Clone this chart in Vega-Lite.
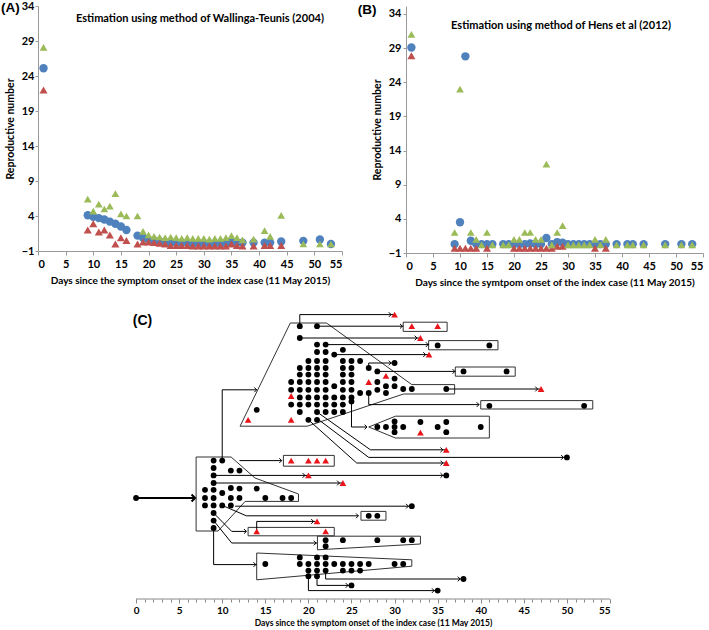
{
"$schema": "https://vega.github.io/schema/vega-lite/v6.json",
"background": "white",
"padding": 0,
"spacing": 23,
"config": {"view": {"stroke": null}, "axis": {"labelFont": "Lato", "titleFont": "Lato", "grid": false, "labelOverlap": false}, "text": {"font": "Lato"}},
"datasets": {
"wt": [
{"day":1,"series":"Estimate","value":25.1},{"day":9,"series":"Estimate","value":4.1},{"day":10,"series":"Estimate","value":3.9},{"day":11,"series":"Estimate","value":3.7},{"day":12,"series":"Estimate","value":3.5},{"day":13,"series":"Estimate","value":3.2},{"day":14,"series":"Estimate","value":2.9},{"day":15,"series":"Estimate","value":2.5},{"day":16,"series":"Estimate","value":2.0},{"day":18,"series":"Estimate","value":1.2},{"day":19,"series":"Estimate","value":0.9},{"day":20,"series":"Estimate","value":0.6},{"day":21,"series":"Estimate","value":0.5},{"day":22,"series":"Estimate","value":0.4},{"day":23,"series":"Estimate","value":0.3},{"day":24,"series":"Estimate","value":0.2},{"day":25,"series":"Estimate","value":0.2},{"day":26,"series":"Estimate","value":0.2},{"day":27,"series":"Estimate","value":0.2},{"day":28,"series":"Estimate","value":0.1},{"day":29,"series":"Estimate","value":0.1},{"day":30,"series":"Estimate","value":0.1},{"day":31,"series":"Estimate","value":0.1},{"day":32,"series":"Estimate","value":0.1},{"day":33,"series":"Estimate","value":0.1},{"day":34,"series":"Estimate","value":0.1},{"day":35,"series":"Estimate","value":0.3},{"day":36,"series":"Estimate","value":0.2},{"day":37,"series":"Estimate","value":0.2},{"day":39,"series":"Estimate","value":0.2},{"day":41,"series":"Estimate","value":0.2},{"day":42,"series":"Estimate","value":0.2},{"day":44,"series":"Estimate","value":0.35},{"day":48,"series":"Estimate","value":0.45},{"day":51,"series":"Estimate","value":0.65},{"day":53,"series":"Estimate","value":0.0},
{"day":1,"series":"Lower 95% CI","value":22.0},{"day":9,"series":"Lower 95% CI","value":2.0},{"day":10,"series":"Lower 95% CI","value":2.9},{"day":11,"series":"Lower 95% CI","value":1.7},{"day":12,"series":"Lower 95% CI","value":2.0},{"day":13,"series":"Lower 95% CI","value":1.3},{"day":14,"series":"Lower 95% CI","value":0.0},{"day":15,"series":"Lower 95% CI","value":0.9},{"day":16,"series":"Lower 95% CI","value":0.5},{"day":18,"series":"Lower 95% CI","value":0.0},{"day":19,"series":"Lower 95% CI","value":0.3},{"day":20,"series":"Lower 95% CI","value":0.3},{"day":21,"series":"Lower 95% CI","value":0.2},{"day":22,"series":"Lower 95% CI","value":0.1},{"day":23,"series":"Lower 95% CI","value":0.0},{"day":24,"series":"Lower 95% CI","value":-0.2},{"day":25,"series":"Lower 95% CI","value":-0.2},{"day":26,"series":"Lower 95% CI","value":-0.2},{"day":27,"series":"Lower 95% CI","value":-0.2},{"day":28,"series":"Lower 95% CI","value":-0.3},{"day":29,"series":"Lower 95% CI","value":-0.3},{"day":30,"series":"Lower 95% CI","value":-0.3},{"day":31,"series":"Lower 95% CI","value":-0.3},{"day":32,"series":"Lower 95% CI","value":-0.3},{"day":33,"series":"Lower 95% CI","value":-0.3},{"day":34,"series":"Lower 95% CI","value":-0.3},{"day":35,"series":"Lower 95% CI","value":0.0},{"day":36,"series":"Lower 95% CI","value":-0.2},{"day":37,"series":"Lower 95% CI","value":-0.3},{"day":39,"series":"Lower 95% CI","value":-0.3},{"day":41,"series":"Lower 95% CI","value":-0.2},{"day":42,"series":"Lower 95% CI","value":-0.2},{"day":44,"series":"Lower 95% CI","value":-0.2},
{"day":1,"series":"Upper 95% CI","value":28.1},{"day":9,"series":"Upper 95% CI","value":6.4},{"day":10,"series":"Upper 95% CI","value":4.7},{"day":11,"series":"Upper 95% CI","value":5.7},{"day":12,"series":"Upper 95% CI","value":5.0},{"day":13,"series":"Upper 95% CI","value":5.4},{"day":14,"series":"Upper 95% CI","value":7.2},{"day":15,"series":"Upper 95% CI","value":4.3},{"day":16,"series":"Upper 95% CI","value":4.0},{"day":18,"series":"Upper 95% CI","value":4.0},{"day":19,"series":"Upper 95% CI","value":1.8},{"day":20,"series":"Upper 95% CI","value":1.3},{"day":21,"series":"Upper 95% CI","value":1.1},{"day":22,"series":"Upper 95% CI","value":1.0},{"day":23,"series":"Upper 95% CI","value":0.9},{"day":24,"series":"Upper 95% CI","value":1.0},{"day":25,"series":"Upper 95% CI","value":0.9},{"day":26,"series":"Upper 95% CI","value":0.8},{"day":27,"series":"Upper 95% CI","value":0.9},{"day":28,"series":"Upper 95% CI","value":0.8},{"day":29,"series":"Upper 95% CI","value":0.8},{"day":30,"series":"Upper 95% CI","value":0.8},{"day":31,"series":"Upper 95% CI","value":0.7},{"day":32,"series":"Upper 95% CI","value":0.8},{"day":33,"series":"Upper 95% CI","value":0.8},{"day":34,"series":"Upper 95% CI","value":0.9},{"day":35,"series":"Upper 95% CI","value":1.2},{"day":36,"series":"Upper 95% CI","value":0.9},{"day":37,"series":"Upper 95% CI","value":0.6},{"day":39,"series":"Upper 95% CI","value":0.7},{"day":41,"series":"Upper 95% CI","value":1.9},{"day":42,"series":"Upper 95% CI","value":1.1},{"day":44,"series":"Upper 95% CI","value":4.1},{"day":48,"series":"Upper 95% CI","value":0.0},{"day":51,"series":"Upper 95% CI","value":0.0},{"day":53,"series":"Upper 95% CI","value":0.0}
],
"hens": [
{"day":1,"series":"Estimate","value":29.1},{"day":9,"series":"Estimate","value":0.3},{"day":10,"series":"Estimate","value":3.5},{"day":11,"series":"Estimate","value":27.8},{"day":12,"series":"Estimate","value":0.8},{"day":13,"series":"Estimate","value":0.3},{"day":14,"series":"Estimate","value":0.3},{"day":15,"series":"Estimate","value":0.3},{"day":16,"series":"Estimate","value":0.3},{"day":18,"series":"Estimate","value":0.3},{"day":19,"series":"Estimate","value":0.3},{"day":20,"series":"Estimate","value":0.3},{"day":21,"series":"Estimate","value":0.3},{"day":22,"series":"Estimate","value":0.3},{"day":23,"series":"Estimate","value":0.4},{"day":24,"series":"Estimate","value":0.3},{"day":25,"series":"Estimate","value":0.3},{"day":26,"series":"Estimate","value":1.2},{"day":27,"series":"Estimate","value":0.3},{"day":28,"series":"Estimate","value":0.6},{"day":29,"series":"Estimate","value":0.5},{"day":30,"series":"Estimate","value":0.3},{"day":31,"series":"Estimate","value":0.3},{"day":32,"series":"Estimate","value":0.3},{"day":33,"series":"Estimate","value":0.3},{"day":34,"series":"Estimate","value":0.3},{"day":35,"series":"Estimate","value":0.3},{"day":36,"series":"Estimate","value":0.3},{"day":37,"series":"Estimate","value":0.3},{"day":39,"series":"Estimate","value":0.3},{"day":41,"series":"Estimate","value":0.3},{"day":42,"series":"Estimate","value":0.3},{"day":44,"series":"Estimate","value":0.3},{"day":48,"series":"Estimate","value":0.3},{"day":51,"series":"Estimate","value":0.3},{"day":53,"series":"Estimate","value":0.3},
{"day":1,"series":"Lower 95% CI","value":27.9},{"day":9,"series":"Lower 95% CI","value":-0.3},{"day":10,"series":"Lower 95% CI","value":-0.3},{"day":11,"series":"Lower 95% CI","value":-0.3},{"day":12,"series":"Lower 95% CI","value":-0.3},{"day":13,"series":"Lower 95% CI","value":-0.3},{"day":15,"series":"Lower 95% CI","value":-0.3},{"day":20,"series":"Lower 95% CI","value":-0.3},{"day":21,"series":"Lower 95% CI","value":-0.3},{"day":22,"series":"Lower 95% CI","value":-0.3},{"day":23,"series":"Lower 95% CI","value":-0.3},{"day":24,"series":"Lower 95% CI","value":-0.3},{"day":25,"series":"Lower 95% CI","value":-0.3},{"day":26,"series":"Lower 95% CI","value":-0.3},{"day":27,"series":"Lower 95% CI","value":-0.3},{"day":28,"series":"Lower 95% CI","value":0.0},{"day":29,"series":"Lower 95% CI","value":0.0},{"day":35,"series":"Lower 95% CI","value":-0.3},{"day":37,"series":"Lower 95% CI","value":-0.3},
{"day":1,"series":"Upper 95% CI","value":31.0},{"day":9,"series":"Upper 95% CI","value":2.0},{"day":10,"series":"Upper 95% CI","value":23.0},{"day":12,"series":"Upper 95% CI","value":2.0},{"day":13,"series":"Upper 95% CI","value":1.0},{"day":14,"series":"Upper 95% CI","value":0.2},{"day":15,"series":"Upper 95% CI","value":2.0},{"day":16,"series":"Upper 95% CI","value":0.2},{"day":18,"series":"Upper 95% CI","value":0.2},{"day":19,"series":"Upper 95% CI","value":0.2},{"day":20,"series":"Upper 95% CI","value":1.0},{"day":21,"series":"Upper 95% CI","value":1.0},{"day":22,"series":"Upper 95% CI","value":2.0},{"day":23,"series":"Upper 95% CI","value":2.0},{"day":24,"series":"Upper 95% CI","value":1.0},{"day":25,"series":"Upper 95% CI","value":1.0},{"day":26,"series":"Upper 95% CI","value":12.0},{"day":27,"series":"Upper 95% CI","value":0.2},{"day":28,"series":"Upper 95% CI","value":2.0},{"day":29,"series":"Upper 95% CI","value":3.0},{"day":30,"series":"Upper 95% CI","value":0.2},{"day":31,"series":"Upper 95% CI","value":0.2},{"day":32,"series":"Upper 95% CI","value":0.2},{"day":33,"series":"Upper 95% CI","value":0.2},{"day":34,"series":"Upper 95% CI","value":0.2},{"day":35,"series":"Upper 95% CI","value":1.0},{"day":36,"series":"Upper 95% CI","value":0.2},{"day":37,"series":"Upper 95% CI","value":1.0},{"day":39,"series":"Upper 95% CI","value":0.2},{"day":41,"series":"Upper 95% CI","value":0.2},{"day":42,"series":"Upper 95% CI","value":0.2},{"day":44,"series":"Upper 95% CI","value":0.2},{"day":48,"series":"Upper 95% CI","value":0.2},{"day":51,"series":"Upper 95% CI","value":0.2},{"day":53,"series":"Upper 95% CI","value":0.2}
],
"c_polys": [
{"id":"p1","i":0,"d":6.97,"y":35.5},{"id":"p1","i":1,"d":11.03,"y":35.5},{"id":"p1","i":2,"d":13.8,"y":30.25},{"id":"p1","i":3,"d":18.85,"y":26.25},{"id":"p1","i":4,"d":18.85,"y":24.4},{"id":"p1","i":5,"d":12.66,"y":24.4},{"id":"p1","i":6,"d":9.52,"y":17},{"id":"p1","i":7,"d":6.97,"y":17},{"id":"p1","i":8,"d":6.97,"y":35.5},
{"id":"p2","i":0,"d":17.9,"y":69},{"id":"p2","i":1,"d":22.1,"y":69},{"id":"p2","i":2,"d":32.0,"y":53.6},{"id":"p2","i":3,"d":36.97,"y":53.6},{"id":"p2","i":4,"d":36.97,"y":51.25},{"id":"p2","i":5,"d":31.04,"y":51.25},{"id":"p2","i":6,"d":19.86,"y":43.2},{"id":"p2","i":7,"d":12.07,"y":43.2},{"id":"p2","i":8,"d":17.9,"y":69},
{"id":"p3","i":0,"d":17.1,"y":33.2},{"id":"p3","i":1,"d":23,"y":33.2},{"id":"p3","i":2,"d":23,"y":35.9},{"id":"p3","i":3,"d":17.1,"y":35.9},{"id":"p3","i":4,"d":17.1,"y":33.2},
{"id":"p4","i":0,"d":31,"y":66.9},{"id":"p4","i":1,"d":36.1,"y":66.9},{"id":"p4","i":2,"d":36.1,"y":69.2},{"id":"p4","i":3,"d":31,"y":69.2},{"id":"p4","i":4,"d":31,"y":66.9},
{"id":"p5","i":0,"d":33.95,"y":62.3},{"id":"p5","i":1,"d":42,"y":62.3},{"id":"p5","i":2,"d":42,"y":64.6},{"id":"p5","i":3,"d":33.95,"y":64.6},{"id":"p5","i":4,"d":33.95,"y":62.3},
{"id":"p6","i":0,"d":37.05,"y":55.7},{"id":"p6","i":1,"d":44,"y":55.7},{"id":"p6","i":2,"d":44,"y":58},{"id":"p6","i":3,"d":37.05,"y":58},{"id":"p6","i":4,"d":37.05,"y":55.7},
{"id":"p7","i":0,"d":40,"y":47.5},{"id":"p7","i":1,"d":53,"y":47.5},{"id":"p7","i":2,"d":53,"y":49.6},{"id":"p7","i":3,"d":40,"y":49.6},{"id":"p7","i":4,"d":40,"y":47.5},
{"id":"p8","i":0,"d":27,"y":43},{"id":"p8","i":1,"d":30.1,"y":45.7},{"id":"p8","i":2,"d":41,"y":45.7},{"id":"p8","i":3,"d":41,"y":40.25},{"id":"p8","i":4,"d":30.1,"y":40.25},{"id":"p8","i":5,"d":27,"y":43},
{"id":"p9","i":0,"d":26.1,"y":19.7},{"id":"p9","i":1,"d":29,"y":19.7},{"id":"p9","i":2,"d":29,"y":21.9},{"id":"p9","i":3,"d":26.1,"y":21.9},{"id":"p9","i":4,"d":26.1,"y":19.7},
{"id":"p10","i":0,"d":13,"y":15.8},{"id":"p10","i":1,"d":23,"y":15.8},{"id":"p10","i":2,"d":23,"y":17.9},{"id":"p10","i":3,"d":13,"y":17.9},{"id":"p10","i":4,"d":13,"y":15.8},
{"id":"p11","i":0,"d":21.05,"y":15.7},{"id":"p11","i":1,"d":33,"y":15.7},{"id":"p11","i":2,"d":33,"y":13.75},{"id":"p11","i":3,"d":21.05,"y":12.3},{"id":"p11","i":4,"d":21.05,"y":15.7},
{"id":"p12","i":0,"d":14,"y":11.5},{"id":"p12","i":1,"d":32,"y":9.8},{"id":"p12","i":2,"d":32,"y":8.2},{"id":"p12","i":3,"d":14,"y":4.8},{"id":"p12","i":4,"d":14,"y":11.5}
],
"c_segs": [
{"x1":10,"y1":34.6,"x2":10,"y2":52.3},{"x1":10,"y1":52.3,"x2":14,"y2":52.3},{"x1":12,"y1":34.6,"x2":16.9,"y2":34.6},{"x1":9,"y1":30.9,"x2":36,"y2":30.9},{"x1":9,"y1":29,"x2":24,"y2":29},{"x1":11.5,"y1":23.2,"x2":32,"y2":23.2},{"x1":10,"y1":23.4,"x2":12.8,"y2":20.8},{"x1":12.8,"y1":20.8,"x2":25.8,"y2":20.8},{"x1":9,"y1":21.5,"x2":11.1,"y2":16.9},{"x1":11.1,"y1":16.9,"x2":12.8,"y2":16.9},{"x1":14,"y1":16.9,"x2":14,"y2":19.4},{"x1":14,"y1":19.4,"x2":20.8,"y2":19.4},{"x1":9,"y1":19.6,"x2":11.1,"y2":14},{"x1":11.1,"y1":14,"x2":21,"y2":14},{"x1":9,"y1":17.75,"x2":9,"y2":8.6},{"x1":9,"y1":8.6,"x2":14,"y2":8.6},{"x1":22,"y1":7.1,"x2":22,"y2":5},{"x1":22,"y1":5,"x2":38,"y2":5},{"x1":21,"y1":5.7,"x2":21,"y2":3.4},{"x1":21,"y1":3.4,"x2":25,"y2":3.4},{"x1":20,"y1":5.7,"x2":20,"y2":2.1},{"x1":20,"y1":2.1,"x2":35,"y2":2.1},
{"x1":19,"y1":68.2,"x2":19,"y2":71.1},{"x1":19,"y1":71.1,"x2":30,"y2":71.1},{"x1":21,"y1":68.2,"x2":31,"y2":68.2},{"x1":19,"y1":65.25,"x2":33,"y2":65.25},{"x1":22,"y1":63.6,"x2":34,"y2":63.6},{"x1":23,"y1":61.1,"x2":34,"y2":61.1},{"x1":27,"y1":57.75,"x2":27,"y2":59},{"x1":27,"y1":59,"x2":30,"y2":59},{"x1":28,"y1":56.9,"x2":37,"y2":56.9},{"x1":36,"y1":52.5,"x2":47,"y2":52.5},{"x1":27,"y1":51.5,"x2":27,"y2":48.6},{"x1":27,"y1":48.6,"x2":39.8,"y2":48.6},{"x1":25,"y1":49.4,"x2":25,"y2":43},{"x1":25,"y1":43,"x2":26.8,"y2":43},{"x1":21,"y1":46.75,"x2":27.2,"y2":37.3},{"x1":27.2,"y1":37.3,"x2":36,"y2":37.3},{"x1":21.2,"y1":44.8,"x2":27,"y2":35.4},{"x1":27,"y1":35.4,"x2":50,"y2":35.4},{"x1":20,"y1":44.8,"x2":25.6,"y2":34},{"x1":25.6,"y1":34,"x2":36,"y2":34}
],
"c_tips": [
{"d":14,"y":52.3},{"d":16.9,"y":34.6},{"d":19.6,"y":30.9},{"d":35.6,"y":30.9},{"d":23.6,"y":29},{"d":31.6,"y":23.2},{"d":25.8,"y":20.8},{"d":12.8,"y":16.9},{"d":20.6,"y":19.4},{"d":20.9,"y":14},{"d":13.9,"y":8.6},{"d":37.6,"y":5},{"d":24.6,"y":3.4},{"d":34.6,"y":2.1},{"d":29.6,"y":71.1},{"d":30.9,"y":68.2},{"d":32.6,"y":65.25},{"d":33.9,"y":63.6},{"d":33.6,"y":61.1},{"d":29.6,"y":59},{"d":37,"y":56.9},{"d":46.6,"y":52.5},{"d":39.8,"y":48.6},{"d":26.8,"y":43},{"d":35.6,"y":37.3},{"d":49.6,"y":35.4},{"d":35.6,"y":34}
],
"c_index": [{"x1":0,"y1":25.25,"x2":6.85,"y2":25.25}],
"c_index_tip": [{"d":6.85,"y":25.25}],
"c_dots": [
{"d":0,"y":25.25},
{"d":9,"y":34.6},{"d":9,"y":32.75},{"d":9,"y":30.9},{"d":9,"y":29},{"d":9,"y":27.3},{"d":9,"y":25.25},{"d":9,"y":23.4},{"d":9,"y":21.5},{"d":9,"y":19.6},{"d":9,"y":17.75},
{"d":10,"y":34.6},{"d":10,"y":26.5},{"d":10,"y":23.4},{"d":11,"y":32.1},{"d":11,"y":27.75},{"d":11,"y":25.25},{"d":11,"y":23.4},{"d":12,"y":32.1},{"d":12,"y":27.6},{"d":12,"y":25.25},{"d":8,"y":27.3},{"d":8,"y":25.25},{"d":8,"y":23.4},{"d":14,"y":27.6},{"d":15,"y":25.25},{"d":17,"y":25.25},{"d":18,"y":25.25},
{"d":36,"y":30.9},{"d":32,"y":23.2},{"d":27,"y":20.8},{"d":28,"y":20.8},
{"d":22,"y":14.7},{"d":22,"y":13.2},{"d":24,"y":14.7},{"d":28,"y":14.7},{"d":31,"y":14.7},{"d":32,"y":14.7},
{"d":15,"y":8.75},{"d":19,"y":10.4},{"d":19,"y":8.75},{"d":20,"y":8.75},{"d":20,"y":7.1},{"d":20,"y":5.7},{"d":21,"y":10.4},{"d":21,"y":8.75},{"d":21,"y":7.1},{"d":21,"y":5.7},{"d":22,"y":10.4},{"d":22,"y":8.75},{"d":22,"y":7.1},{"d":23,"y":8.75},{"d":24,"y":8.75},{"d":24,"y":7.1},{"d":25,"y":8.75},{"d":25,"y":7.1},{"d":26,"y":8.75},{"d":26,"y":7.1},{"d":27,"y":8.75},{"d":30,"y":8.75},{"d":31,"y":8.75},
{"d":38,"y":5},{"d":25,"y":3.4},{"d":35,"y":2.1},
{"d":19,"y":68.2},{"d":21,"y":68.2},{"d":19,"y":65.25},{"d":21,"y":63.6},{"d":22,"y":63.6},{"d":21,"y":61.75},{"d":22,"y":61.75},{"d":24,"y":62.3},{"d":23,"y":61.1},
{"d":20,"y":59.5},{"d":21,"y":59.5},{"d":22,"y":59.5},{"d":24,"y":59.5},{"d":25,"y":59.5},{"d":26,"y":59.5},{"d":30,"y":59},
{"d":19,"y":57.75},{"d":20,"y":57.75},{"d":21,"y":57.75},{"d":22,"y":57.75},{"d":24,"y":57.75},{"d":25,"y":57.75},{"d":27,"y":57.75},
{"d":19,"y":56.1},{"d":20,"y":56.1},{"d":21,"y":56.1},{"d":22,"y":56.1},{"d":24,"y":56.1},{"d":25,"y":56.1},{"d":28,"y":56.9},
{"d":18,"y":54.25},{"d":19,"y":54.25},{"d":20,"y":54.25},{"d":21,"y":54.25},{"d":22,"y":54.25},{"d":24,"y":54.25},{"d":25,"y":54.25},{"d":28,"y":54.25},{"d":30,"y":55.1},
{"d":18,"y":52.3},{"d":19,"y":52.3},{"d":20,"y":52.3},{"d":21,"y":52.3},{"d":22,"y":52.3},{"d":24,"y":52.3},{"d":25,"y":52.3},{"d":28,"y":52.3},{"d":23,"y":53.2},{"d":29,"y":53.2},{"d":30,"y":53.2},{"d":31,"y":52.5},{"d":32,"y":52.5},{"d":36,"y":52.5},
{"d":19,"y":50.4},{"d":20,"y":50.4},{"d":21,"y":50.4},{"d":22,"y":50.4},{"d":23,"y":50.4},{"d":24,"y":50.4},{"d":25,"y":50.4},{"d":26,"y":51.5},{"d":27,"y":51.5},{"d":29,"y":51.5},
{"d":18,"y":48.6},{"d":19,"y":48.6},{"d":20,"y":48.6},{"d":21,"y":48.6},{"d":22,"y":48.6},{"d":23,"y":48.6},{"d":24,"y":48.6},{"d":25,"y":49.4},
{"d":19,"y":46.75},{"d":21,"y":46.75},{"d":22,"y":46.75},{"d":23,"y":46.75},{"d":24,"y":46.75},{"d":20,"y":44.8},{"d":21,"y":44.8},{"d":14,"y":47.3},
{"d":35,"y":63.4},{"d":41,"y":63.4},{"d":38,"y":56.9},{"d":43,"y":56.9},{"d":41,"y":48.3},{"d":52,"y":48.3},{"d":50,"y":35.4},
{"d":28,"y":43},{"d":29,"y":43},{"d":30,"y":44.4},{"d":30,"y":43},{"d":30,"y":41.7},{"d":31,"y":43},{"d":33,"y":44.25},{"d":35,"y":43},{"d":36,"y":44.25},{"d":36,"y":41.7},{"d":40,"y":43}
],
"c_tris": [
{"d":18,"y":34.6},{"d":20,"y":34.6},{"d":21,"y":34.6},{"d":22,"y":34.6},{"d":20,"y":30.9},{"d":24,"y":29},{"d":14,"y":16.9},{"d":22,"y":16.9},{"d":21,"y":19.4},
{"d":27,"y":54.25},{"d":18,"y":50.75},{"d":13,"y":44.8},{"d":18,"y":44.8},{"d":29,"y":55.8},
{"d":30,"y":71.1},{"d":32,"y":68.2},{"d":35,"y":68.2},{"d":33,"y":65.25},{"d":34,"y":61.1},{"d":47,"y":52.5},{"d":33,"y":41.6},{"d":36,"y":37.3},{"d":36,"y":34}
]
},
"vconcat": [
{"hconcat": [
{"width": 304, "height": 245,
 "resolve": {"axis": {"x": "independent", "y": "independent"}},
 "layer": [
  {"data": {"name": "wt"},
   "mark": {"type": "point", "filled": true, "opacity": 1},
   "encoding": {
    "x": {"field": "day", "type": "quantitative", "scale": {"domain": [0, 55], "nice": false, "zero": false},
          "axis": {"values": [0,5,10,15,20,25,30,35,40,45,50,55], "labelOverlap": false, "title": "Days since the symptom onset of the index case (11 May 2015)", "labelFontSize": 11, "labelFontWeight": "bold", "labelColor": "#000", "titleFontSize": 10, "titleFontWeight": "bold", "titleColor": "#000", "domainColor": "#9a9a9a", "tickColor": "#9a9a9a", "tickSize": 4, "labelPadding": 3, "titlePadding": 6}},
    "y": {"field": "value", "type": "quantitative", "scale": {"domain": [-1, 34], "nice": false, "zero": false},
          "axis": {"values": [-1,4,9,14,19,24,29,34], "labelOverlap": false, "title": "Reproductive number", "labelFontSize": 11, "labelFontWeight": "bold", "labelColor": "#000", "titleFontSize": 10.5, "titleFontWeight": "bold", "titleColor": "#000", "domainColor": "#9a9a9a", "tickColor": "#9a9a9a", "tickSize": 3, "labelPadding": 1, "titlePadding": 6}},
    "color": {"field": "series", "type": "nominal", "scale": {"domain": ["Estimate", "Lower 95% CI", "Upper 95% CI"], "range": ["#4f81bd", "#c0504d", "#9bbb59"]}, "legend": null},
    "shape": {"field": "series", "type": "nominal", "scale": {"domain": ["Estimate", "Lower 95% CI", "Upper 95% CI"], "range": ["circle", "triangle-up", "triangle-up"]}, "legend": null},
    "size": {"field": "series", "type": "nominal", "scale": {"domain": ["Estimate", "Lower 95% CI", "Upper 95% CI"], "range": [70, 60, 60]}, "legend": null}
   }},
  {"data": {"values": [{}]}, "mark": {"type": "text", "fontWeight": "bold", "fontSize": 11, "color": "#000"},
   "encoding": {"x": {"datum": 29.3, "axis": null}, "y": {"datum": 32.1, "axis": null}, "text": {"value": "Estimation using method of Wallinga-Teunis (2004)"}}},
  {"data": {"values": [{}]}, "mark": {"type": "text", "fontWeight": "bold", "fontSize": 13.5, "font": "Liberation Sans", "color": "#000"},
   "encoding": {"x": {"datum": -5.0, "axis": null}, "y": {"datum": 33.7, "axis": null}, "text": {"value": "(A)"}}}
 ]},
{"width": 297, "height": 247,
 "resolve": {"axis": {"x": "independent", "y": "independent"}},
 "layer": [
  {"data": {"name": "hens"},
   "mark": {"type": "point", "filled": true, "opacity": 1},
   "encoding": {
    "x": {"field": "day", "type": "quantitative", "scale": {"domain": [0, 55], "nice": false, "zero": false},
          "axis": {"values": [0,5,10,15,20,25,30,35,40,45,50,55], "labelOverlap": false, "title": "Days since the symtpom onset of the index case (11 May 2015)", "labelFontSize": 11, "labelFontWeight": "bold", "labelColor": "#000", "titleFontSize": 10, "titleFontWeight": "bold", "titleColor": "#000", "domainColor": "#9a9a9a", "tickColor": "#9a9a9a", "tickSize": 4, "labelPadding": 3, "titlePadding": 6}},
    "y": {"field": "value", "type": "quantitative", "scale": {"domain": [-1, 35.17], "nice": false, "zero": false},
          "axis": {"values": [-1,4,9,14,19,24,29,34], "labelOverlap": false, "title": "Reproductive number", "labelFontSize": 11, "labelFontWeight": "bold", "labelColor": "#000", "titleFontSize": 10.5, "titleFontWeight": "bold", "titleColor": "#000", "domainColor": "#9a9a9a", "tickColor": "#9a9a9a", "tickSize": 3, "labelPadding": 2, "titlePadding": 6}},
    "color": {"field": "series", "type": "nominal", "scale": {"domain": ["Estimate", "Lower 95% CI", "Upper 95% CI"], "range": ["#4f81bd", "#c0504d", "#9bbb59"]}, "legend": null},
    "shape": {"field": "series", "type": "nominal", "scale": {"domain": ["Estimate", "Lower 95% CI", "Upper 95% CI"], "range": ["circle", "triangle-up", "triangle-up"]}, "legend": null},
    "size": {"field": "series", "type": "nominal", "scale": {"domain": ["Estimate", "Lower 95% CI", "Upper 95% CI"], "range": [70, 60, 60]}, "legend": null}
   }},
  {"data": {"values": [{}]}, "mark": {"type": "text", "fontWeight": "bold", "fontSize": 11, "color": "#000"},
   "encoding": {"x": {"datum": 28.7, "axis": null}, "y": {"datum": 32.2, "axis": null}, "text": {"value": "Estimation using method of Hens et al (2012)"}}},
  {"data": {"values": [{}]}, "mark": {"type": "text", "fontWeight": "bold", "fontSize": 13.5, "font": "Liberation Sans", "color": "#000"},
   "encoding": {"x": {"datum": -7.2, "axis": null}, "y": {"datum": 34.6, "axis": null}, "text": {"value": "(B)"}}}
 ]}
], "spacing": 64, "bounds": "flush"},
{"width": 572, "height": 288,
 "resolve": {"axis": {"x": "independent", "y": "independent"}},
 "layer": [
  {"data": {"name": "c_polys"},
   "mark": {"type": "line", "color": "#333", "strokeWidth": 1},
   "encoding": {
    "x": {"field": "d", "type": "quantitative", "scale": {"domain": [-11.38, 55], "nice": false, "zero": false},
          "axis": {"values": [0,5,10,15,20,25,30,35,40,45,50,55], "labelOverlap": false, "domain": false, "title": "Days since the symptom onset of the index case (11 May 2015)", "titleX": 335, "labelFontSize": 10, "labelFontWeight": "bold", "labelColor": "#000", "titleFontSize": 8.5, "titleFontWeight": "bold", "titleColor": "#000", "tickColor": "#888", "tickSize": 4, "labelPadding": 2, "titlePadding": 3}},
    "y": {"field": "y", "type": "quantitative", "scale": {"domain": [0, 72], "nice": false, "zero": false}, "axis": null},
    "detail": {"field": "id"},
    "order": {"field": "i", "type": "quantitative"}
   }},
  {"data": {"name": "c_segs"},
   "mark": {"type": "rule", "color": "#000", "strokeWidth": 1},
   "encoding": {
    "x": {"field": "x1", "type": "quantitative", "axis": {"orient": "bottom", "values": [0,1,2,3,4,5,6,7,8,9,10,11,12,13,14,15,16,17,18,19,20,21,22,23,24,25,26,27,28,29,30,31,32,33,34,35,36,37,38,39,40,41,42,43,44,45,46,47,48,49,50,51,52,53,54,55], "labels": false, "title": null, "domain": false, "tickColor": "#888", "tickSize": 3}},
    "x2": {"field": "x2"},
    "y": {"field": "y1", "type": "quantitative", "axis": null},
    "y2": {"field": "y2"}
   }},
  {"data": {"values": [{}]},
   "mark": {"type": "rule", "color": "#888", "strokeWidth": 1},
   "encoding": {"x": {"datum": 0, "axis": null}, "x2": {"datum": 55}, "y": {"datum": 0, "axis": null}}},
  {"data": {"name": "c_index"},
   "mark": {"type": "rule", "color": "#000", "strokeWidth": 2.2},
   "encoding": {
    "x": {"field": "x1", "type": "quantitative", "axis": null},
    "x2": {"field": "x2"},
    "y": {"field": "y1", "type": "quantitative", "axis": null},
    "y2": {"field": "y2"}
   }},
  {"data": {"name": "c_tips"},
   "mark": {"type": "point", "shape": "M -1 -1 L 0 0 L -1 1", "filled": false, "stroke": "#000", "strokeWidth": 1, "size": 22, "opacity": 1},
   "encoding": {
    "x": {"field": "d", "type": "quantitative", "axis": null},
    "y": {"field": "y", "type": "quantitative", "axis": null}
   }},
  {"data": {"name": "c_index_tip"},
   "mark": {"type": "point", "shape": "M -1 -1 L 0 0 L -1 1", "filled": false, "stroke": "#000", "strokeWidth": 2, "size": 50, "opacity": 1},
   "encoding": {
    "x": {"field": "d", "type": "quantitative", "axis": null},
    "y": {"field": "y", "type": "quantitative", "axis": null}
   }},
  {"data": {"name": "c_dots"},
   "mark": {"type": "circle", "color": "#000", "size": 34, "opacity": 1},
   "encoding": {
    "x": {"field": "d", "type": "quantitative", "axis": null},
    "y": {"field": "y", "type": "quantitative", "axis": null}
   }},
  {"data": {"name": "c_tris"},
   "mark": {"type": "point", "shape": "triangle-up", "filled": true, "color": "#e8151b", "size": 45, "opacity": 1},
   "encoding": {
    "x": {"field": "d", "type": "quantitative", "axis": null},
    "y": {"field": "y", "type": "quantitative", "axis": null}
   }},
  {"data": {"values": [{}]}, "mark": {"type": "text", "fontWeight": "bold", "fontSize": 14, "font": "Liberation Sans", "color": "#000"},
   "encoding": {"x": {"datum": 0.75, "axis": null}, "y": {"datum": 69.5, "axis": null}, "text": {"value": "(C)"}}}
 ]}
]
}
